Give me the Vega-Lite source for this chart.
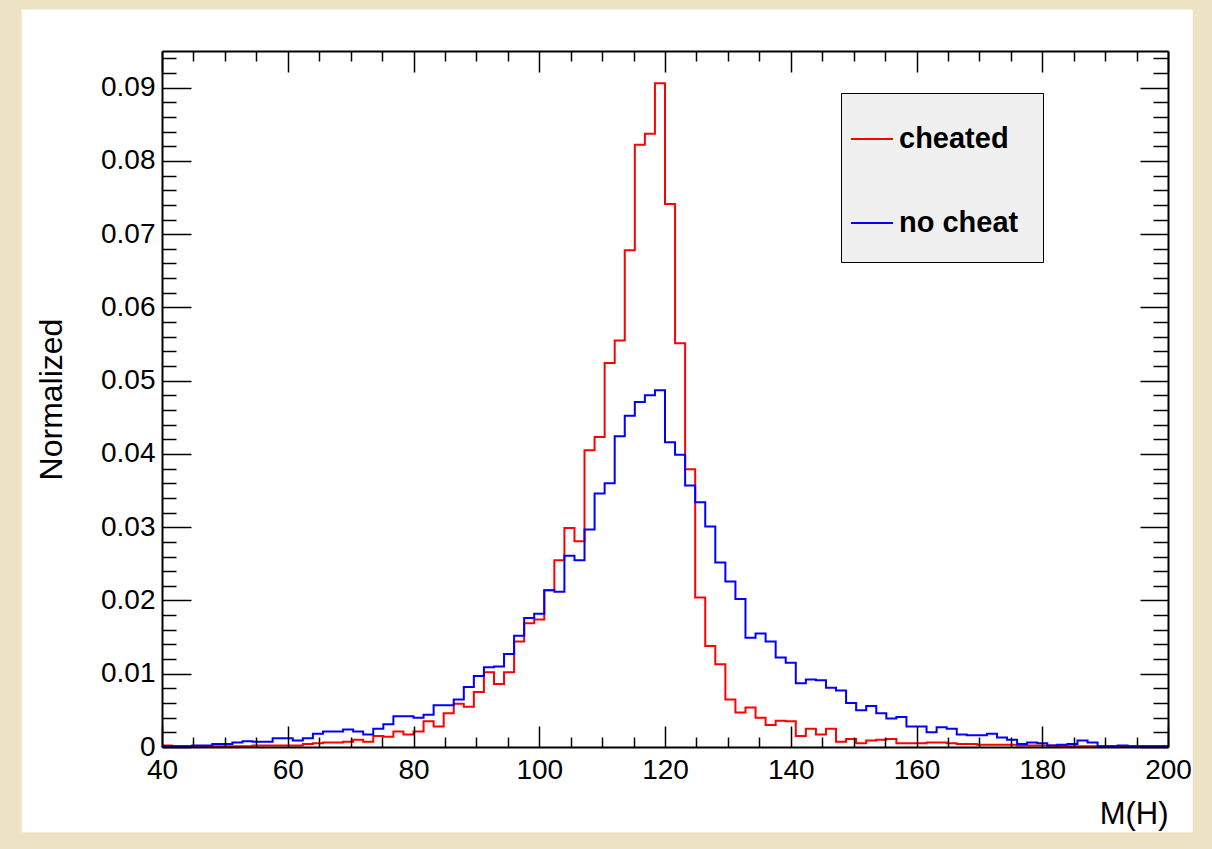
{
  "$schema": "https://vega.github.io/schema/vega-lite/v6.json",
  "width": 1006,
  "height": 696,
  "autosize": {"type": "none"},
  "padding": {"left": 162, "top": 51, "right": 44, "bottom": 102},
  "background": "#EEE2C4",
  "config": {
    "view": {"stroke": null, "fill": null},
    "font": "Liberation Sans"
  },
  "data": {
    "values": [
      {"m": 40, "cheated": 0.0002, "no cheat": 0.0001},
      {"m": 41.6, "cheated": 0.0001, "no cheat": 0.0001},
      {"m": 43.2, "cheated": 0.0001, "no cheat": 0.0001},
      {"m": 44.8, "cheated": 0.0001, "no cheat": 0.0002},
      {"m": 46.4, "cheated": 0.0001, "no cheat": 0.0002},
      {"m": 48, "cheated": 0.0001, "no cheat": 0.0004},
      {"m": 49.6, "cheated": 0.0001, "no cheat": 0.0004},
      {"m": 51.2, "cheated": 0.0001, "no cheat": 0.0006},
      {"m": 52.8, "cheated": 0.0001, "no cheat": 0.0008},
      {"m": 54.4, "cheated": 0.0002, "no cheat": 0.0007},
      {"m": 56, "cheated": 0.0002, "no cheat": 0.0007},
      {"m": 57.6, "cheated": 0.0002, "no cheat": 0.0012},
      {"m": 59.2, "cheated": 0.0002, "no cheat": 0.0012},
      {"m": 60.8, "cheated": 0.0002, "no cheat": 0.0009},
      {"m": 62.4, "cheated": 0.0004, "no cheat": 0.0012},
      {"m": 64, "cheated": 0.0005, "no cheat": 0.0018},
      {"m": 65.6, "cheated": 0.0006, "no cheat": 0.0021},
      {"m": 67.2, "cheated": 0.0006, "no cheat": 0.0021},
      {"m": 68.8, "cheated": 0.0007, "no cheat": 0.0024},
      {"m": 70.4, "cheated": 0.0010, "no cheat": 0.0021},
      {"m": 72, "cheated": 0.0007, "no cheat": 0.0017},
      {"m": 73.6, "cheated": 0.0015, "no cheat": 0.0025},
      {"m": 75.2, "cheated": 0.0014, "no cheat": 0.0031},
      {"m": 76.8, "cheated": 0.0021, "no cheat": 0.0042},
      {"m": 78.4, "cheated": 0.0017, "no cheat": 0.0042},
      {"m": 80, "cheated": 0.0021, "no cheat": 0.0040},
      {"m": 81.6, "cheated": 0.0035, "no cheat": 0.0044},
      {"m": 83.2, "cheated": 0.0028, "no cheat": 0.0057},
      {"m": 84.8, "cheated": 0.0046, "no cheat": 0.0057},
      {"m": 86.4, "cheated": 0.0059, "no cheat": 0.0065},
      {"m": 88, "cheated": 0.0055, "no cheat": 0.0082},
      {"m": 89.6, "cheated": 0.0075, "no cheat": 0.0097},
      {"m": 91.2, "cheated": 0.0102, "no cheat": 0.0109},
      {"m": 92.8, "cheated": 0.0086, "no cheat": 0.0110},
      {"m": 94.4, "cheated": 0.0102, "no cheat": 0.0127},
      {"m": 96, "cheated": 0.0144, "no cheat": 0.0152},
      {"m": 97.6, "cheated": 0.0169, "no cheat": 0.0176},
      {"m": 99.2, "cheated": 0.0174, "no cheat": 0.0182},
      {"m": 100.8, "cheated": 0.0214, "no cheat": 0.0214},
      {"m": 102.4, "cheated": 0.0255, "no cheat": 0.0212},
      {"m": 104, "cheated": 0.0299, "no cheat": 0.0261},
      {"m": 105.6, "cheated": 0.0281, "no cheat": 0.0255},
      {"m": 107.2, "cheated": 0.0405, "no cheat": 0.0297},
      {"m": 108.8, "cheated": 0.0423, "no cheat": 0.0346},
      {"m": 110.4, "cheated": 0.0524, "no cheat": 0.0360},
      {"m": 112, "cheated": 0.0555, "no cheat": 0.0424},
      {"m": 113.6, "cheated": 0.0678, "no cheat": 0.0452},
      {"m": 115.2, "cheated": 0.0822, "no cheat": 0.0471},
      {"m": 116.8, "cheated": 0.0837, "no cheat": 0.0480},
      {"m": 118.4, "cheated": 0.0906, "no cheat": 0.0487},
      {"m": 120, "cheated": 0.0741, "no cheat": 0.0416},
      {"m": 121.6, "cheated": 0.0551, "no cheat": 0.0399},
      {"m": 123.2, "cheated": 0.0379, "no cheat": 0.0357},
      {"m": 124.8, "cheated": 0.0204, "no cheat": 0.0334},
      {"m": 126.4, "cheated": 0.0138, "no cheat": 0.0301},
      {"m": 128, "cheated": 0.0113, "no cheat": 0.0252},
      {"m": 129.6, "cheated": 0.0065, "no cheat": 0.0226},
      {"m": 131.2, "cheated": 0.0047, "no cheat": 0.0202},
      {"m": 132.8, "cheated": 0.0054, "no cheat": 0.0149},
      {"m": 134.4, "cheated": 0.0040, "no cheat": 0.0155},
      {"m": 136, "cheated": 0.0030, "no cheat": 0.0144},
      {"m": 137.6, "cheated": 0.0036, "no cheat": 0.0122},
      {"m": 139.2, "cheated": 0.0035, "no cheat": 0.0115},
      {"m": 140.8, "cheated": 0.0015, "no cheat": 0.0087},
      {"m": 142.4, "cheated": 0.0025, "no cheat": 0.0092},
      {"m": 144, "cheated": 0.0017, "no cheat": 0.0091},
      {"m": 145.6, "cheated": 0.0025, "no cheat": 0.0081},
      {"m": 147.2, "cheated": 0.0007, "no cheat": 0.0077},
      {"m": 148.8, "cheated": 0.0011, "no cheat": 0.0060},
      {"m": 150.4, "cheated": 0.0005, "no cheat": 0.0050},
      {"m": 152, "cheated": 0.0009, "no cheat": 0.0056},
      {"m": 153.6, "cheated": 0.0010, "no cheat": 0.0046},
      {"m": 155.2, "cheated": 0.0011, "no cheat": 0.0039},
      {"m": 156.8, "cheated": 0.0005, "no cheat": 0.0041},
      {"m": 158.4, "cheated": 0.0005, "no cheat": 0.0028},
      {"m": 160, "cheated": 0.0005, "no cheat": 0.0028},
      {"m": 161.6, "cheated": 0.0006, "no cheat": 0.0020},
      {"m": 163.2, "cheated": 0.0006, "no cheat": 0.0027},
      {"m": 164.8, "cheated": 0.0005, "no cheat": 0.0025},
      {"m": 166.4, "cheated": 0.0004, "no cheat": 0.0017},
      {"m": 168, "cheated": 0.0004, "no cheat": 0.0016},
      {"m": 169.6, "cheated": 0.0003, "no cheat": 0.0016},
      {"m": 171.2, "cheated": 0.0003, "no cheat": 0.0018},
      {"m": 172.8, "cheated": 0.0003, "no cheat": 0.0013},
      {"m": 174.4, "cheated": 0.0003, "no cheat": 0.0010},
      {"m": 176, "cheated": 0.0002, "no cheat": 0.0004},
      {"m": 177.6, "cheated": 0.0002, "no cheat": 0.0006},
      {"m": 179.2, "cheated": 0.0002, "no cheat": 0.0005},
      {"m": 180.8, "cheated": 0.0002, "no cheat": 0.0002},
      {"m": 182.4, "cheated": 0.0001, "no cheat": 0.0003},
      {"m": 184, "cheated": 0.0001, "no cheat": 0.0004},
      {"m": 185.6, "cheated": 0.0001, "no cheat": 0.0009},
      {"m": 187.2, "cheated": 0.0001, "no cheat": 0.0006},
      {"m": 188.8, "cheated": 0.0001, "no cheat": 0.0001},
      {"m": 190.4, "cheated": 0.0001, "no cheat": 0.0001},
      {"m": 192, "cheated": 0.0001, "no cheat": 0.0002},
      {"m": 193.6, "cheated": 0.0001, "no cheat": 0.0001},
      {"m": 195.2, "cheated": 0.0001, "no cheat": 0.0001},
      {"m": 196.8, "cheated": 0.0001, "no cheat": 0.0001},
      {"m": 198.4, "cheated": 0.0001, "no cheat": 0.0001},
      {"m": 200, "cheated": 0.0001, "no cheat": 0.0001}
    ]
  },
  "resolve": {"axis": {"x": "independent", "y": "independent"}},
  "layer": [
    {
      "data": {"values": [{"panel": "canvas"}]},
      "mark": {"type": "rect", "fill": "white", "clip": false},
      "encoding": {
        "x": {"datum": 17.69, "type": "quantitative", "scale": {"domain": [40, 200], "nice": false, "zero": false}, "axis": null},
        "x2": {"datum": 203.93},
        "y": {"datum": 0.10068, "type": "quantitative", "scale": {"domain": [0, 0.095], "nice": false, "zero": false}, "axis": null},
        "y2": {"datum": -0.01164}
      }
    },
    {
      "transform": [{"fold": ["cheated", "no cheat"], "as": ["s", "v"]}],
      "mark": {"type": "line", "interpolate": "step-after", "strokeWidth": 2, "clip": false},
      "encoding": {
        "x": {
          "field": "m", "type": "quantitative",
          "scale": {"domain": [40, 200], "nice": false, "zero": false},
          "axis": {
            "orient": "bottom", "zindex": 1,
            "values": [40, 60, 80, 100, 120, 140, 160, 180, 200],
            "grid": false,
            "domain": true, "domainColor": "black", "domainWidth": 2,
            "ticks": true, "tickSize": -21, "tickColor": "black", "tickWidth": 1.5,
            "labels": true, "labelFont": "Liberation Sans", "labelFontSize": 28, "labelColor": "black",
            "labelBaseline": "alphabetic", "labelPadding": 52, "labelFlush": false, "labelOverlap": false,
            "title": "M(H)", "titleFont": "Liberation Sans", "titleFontSize": 31, "titleFontWeight": "normal", "titleColor": "black",
            "titleAnchor": "end", "titleAlign": "right", "titleBaseline": "alphabetic", "titleX": 1006, "titleY": 76
          }
        },
        "y": {
          "field": "v", "type": "quantitative",
          "scale": {"domain": [0, 0.095], "nice": false, "zero": false},
          "axis": {
            "orient": "left", "zindex": 1,
            "values": [0, 0.01, 0.02, 0.03, 0.04, 0.05, 0.06, 0.07, 0.08, 0.09],
            "format": ".2~f",
            "grid": false,
            "domain": true, "domainColor": "black", "domainWidth": 2,
            "ticks": true, "tickSize": -29, "tickColor": "black", "tickWidth": 1.5,
            "labels": true, "labelFont": "Liberation Sans", "labelFontSize": 28, "labelColor": "black",
            "labelBaseline": "middle", "labelAlign": "right", "labelPadding": 36, "labelFlush": false, "labelOverlap": false,
            "title": "Normalized", "titleFont": "Liberation Sans", "titleFontSize": 32, "titleFontWeight": "normal", "titleColor": "black",
            "titleAngle": 270, "titleAlign": "center", "titleBaseline": "alphabetic", "titleX": -101, "titleY": 348
          }
        },
        "color": {
          "field": "s", "type": "nominal",
          "scale": {"domain": ["cheated", "no cheat"], "range": ["#ff0000", "#0000ff"]},
          "legend": {
            "orient": "none", "legendX": 679, "legendY": 42,
            "title": null,
            "fillColor": "#f0f0f0", "strokeColor": "black",
            "padding": 24,
            "symbolType": "stroke", "symbolSize": 1764, "symbolStrokeWidth": 2, "symbolOffset": -15,
            "labelOffset": 5, "labelFont": "Liberation Sans", "labelFontSize": 29, "labelFontWeight": "bold", "labelColor": "black",
            "rowPadding": 47
          }
        }
      }
    },
    {
      "mark": {"type": "point", "opacity": 0},
      "encoding": {
        "x": {
          "field": "m", "type": "quantitative",
          "scale": {"domain": [40, 200], "nice": false, "zero": false},
          "axis": {
            "orient": "bottom", "zindex": 1, "grid": false, "domain": false, "labels": false, "title": null,
            "values": [45, 50, 55, 65, 70, 75, 85, 90, 95, 105, 110, 115, 125, 130, 135, 145, 150, 155, 165, 170, 175, 185, 190, 195],
            "tickSize": -10, "tickColor": "black", "tickWidth": 1.5
          }
        },
        "y": {
          "field": "cheated", "type": "quantitative",
          "scale": {"domain": [0, 0.095], "nice": false, "zero": false},
          "axis": {
            "orient": "left", "zindex": 1, "grid": false, "domain": false, "labels": false, "title": null,
            "values": [0.002, 0.004, 0.006, 0.008, 0.012, 0.014, 0.016, 0.018, 0.022, 0.024, 0.026, 0.028, 0.032, 0.034, 0.036, 0.038, 0.042, 0.044, 0.046, 0.048, 0.052, 0.054, 0.056, 0.058, 0.062, 0.064, 0.066, 0.068, 0.072, 0.074, 0.076, 0.078, 0.082, 0.084, 0.086, 0.088, 0.092, 0.094],
            "tickSize": -14, "tickColor": "black", "tickWidth": 1.5
          }
        }
      }
    },
    {
      "mark": {"type": "point", "opacity": 0},
      "encoding": {
        "x": {
          "field": "m", "type": "quantitative",
          "scale": {"domain": [40, 200], "nice": false, "zero": false},
          "axis": {
            "orient": "top", "zindex": 1, "grid": false, "labels": false, "title": null,
            "domain": true, "domainColor": "black", "domainWidth": 2,
            "values": [40, 60, 80, 100, 120, 140, 160, 180, 200],
            "tickSize": -21, "tickColor": "black", "tickWidth": 1.5
          }
        },
        "y": {
          "field": "cheated", "type": "quantitative",
          "scale": {"domain": [0, 0.095], "nice": false, "zero": false},
          "axis": {
            "orient": "right", "zindex": 1, "grid": false, "labels": false, "title": null,
            "domain": true, "domainColor": "black", "domainWidth": 2,
            "values": [0, 0.01, 0.02, 0.03, 0.04, 0.05, 0.06, 0.07, 0.08, 0.09],
            "tickSize": -28, "tickColor": "black", "tickWidth": 1.5
          }
        }
      }
    },
    {
      "mark": {"type": "point", "opacity": 0},
      "encoding": {
        "x": {
          "field": "m", "type": "quantitative",
          "scale": {"domain": [40, 200], "nice": false, "zero": false},
          "axis": {
            "orient": "top", "zindex": 1, "grid": false, "domain": false, "labels": false, "title": null,
            "values": [45, 50, 55, 65, 70, 75, 85, 90, 95, 105, 110, 115, 125, 130, 135, 145, 150, 155, 165, 170, 175, 185, 190, 195],
            "tickSize": -10, "tickColor": "black", "tickWidth": 1.5
          }
        },
        "y": {
          "field": "cheated", "type": "quantitative",
          "scale": {"domain": [0, 0.095], "nice": false, "zero": false},
          "axis": {
            "orient": "right", "zindex": 1, "grid": false, "domain": false, "labels": false, "title": null,
            "values": [0.002, 0.004, 0.006, 0.008, 0.012, 0.014, 0.016, 0.018, 0.022, 0.024, 0.026, 0.028, 0.032, 0.034, 0.036, 0.038, 0.042, 0.044, 0.046, 0.048, 0.052, 0.054, 0.056, 0.058, 0.062, 0.064, 0.066, 0.068, 0.072, 0.074, 0.076, 0.078, 0.082, 0.084, 0.086, 0.088, 0.092, 0.094],
            "tickSize": -15, "tickColor": "black", "tickWidth": 1.5
          }
        }
      }
    }
  ]
}
